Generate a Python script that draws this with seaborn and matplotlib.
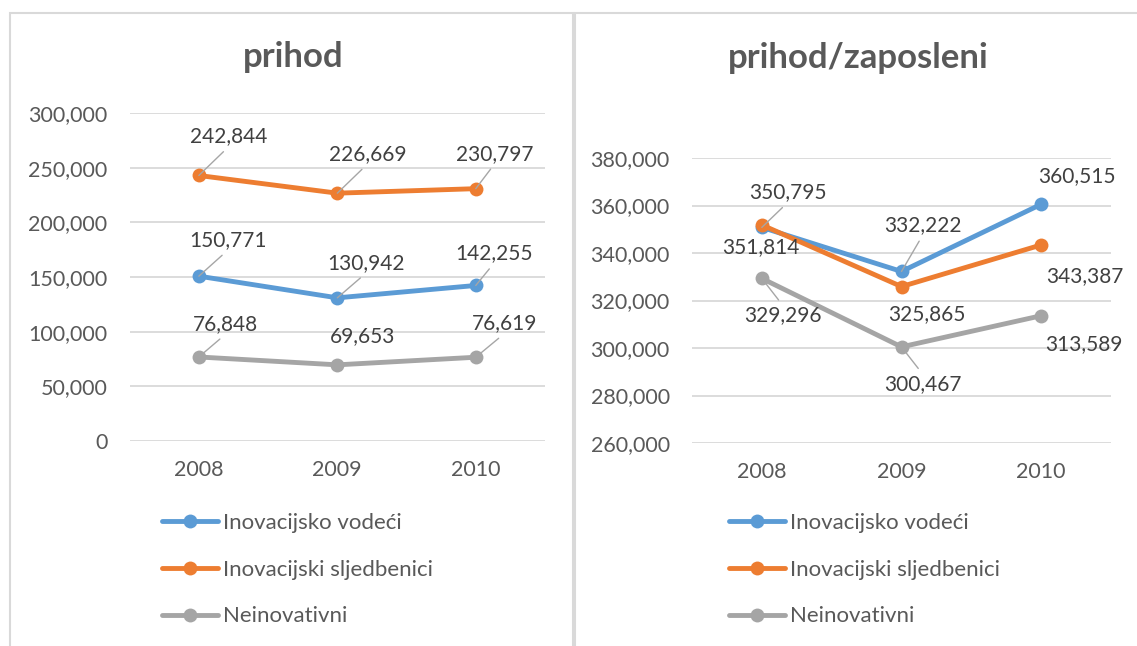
import matplotlib
matplotlib.use("Agg")
import matplotlib.pyplot as plt
from matplotlib.lines import Line2D
from matplotlib.patches import Rectangle
import seaborn as sns
import pandas as pd

years = ["2008", "2009", "2010"]
series_names = ["Inovacijsko vodeći", "Inovacijski sljedbenici", "Neinovativni"]

prihod_vodeci = [150771, 130942, 142255]
prihod_sljedbenici = [242844, 226669, 230797]
prihod_neinovativni = [76848, 69653, 76619]

pz_vodeci = [350795, 332222, 360515]
pz_sljedbenici = [351814, 325865, 343387]
pz_neinovativni = [329296, 300467, 313589]

left_ticks = [0, 50000, 100000, 150000, 200000, 250000, 300000]
right_ticks = [260000, 280000, 300000, 320000, 340000, 360000, 380000]

colors = ["#5B9BD5", "#ED7D31", "#A5A5A5"]

sns.set_theme(style="white")
plt.rcParams["font.family"] = ["Lato", "DejaVu Sans"]

W, H = 1137, 646
fig = plt.figure(figsize=(W / 100, H / 100), dpi=100)


def fx(px):
    return px / W


def fy(py):
    return 1 - py / H


# panel borders
fig.patches.append(Rectangle((fx(10), -0.1), fx(573) - fx(10), fy(13) + 0.1,
                             transform=fig.transFigure, fill=False,
                             ec="#d9d9d9", lw=1.5))
fig.patches.append(Rectangle((fx(575), -0.1), 0.6, fy(13) + 0.1,
                             transform=fig.transFigure, fill=False,
                             ec="#d9d9d9", lw=1.5))

ax1 = fig.add_axes([fx(129.6), fy(441), fx(545) - fx(129.6), fy(113) - fy(441)])
ax2 = fig.add_axes([fx(692), fy(443), fx(1111) - fx(692), fy(158) - fy(443)])

# label offsets (pixels) and leader flags, per series per year
left_offsets = [
    [(29, 36), (29, 35), (18, 32)],
    [(30, 39), (30, 39), (19, 35)],
    [(27, 33), (25, 29), (29, 34)],
]
left_leaders = [[True, True, True], [True, True, True], [True, False, True]]
right_offsets = [
    [(26, 35), (21, 46), (36, 28)],
    [(-1, -22), (25, -28), (44, -31)],
    [(21, -37), (21, -37), (43, -28)],
]
right_leaders = [[True, True, False], [False, False, False], [True, True, False]]

FS = 15.5


def draw(ax, data, ticks, offsets, leaders):
    xs = list(range(len(years)))
    for i, (name, vals) in enumerate(zip(series_names, data)):
        df = pd.DataFrame({"x": xs, "y": vals})
        sns.lineplot(data=df, x="x", y="y", ax=ax, color=colors[i], lw=3.5,
                     marker="o", markersize=10, markeredgewidth=0,
                     label=name, legend=False)
    for i, vals in enumerate(data):
        for j, v in enumerate(vals):
            dx, dy = offsets[i][j]
            ap = None
            if leaders[i][j]:
                ap = dict(arrowstyle="-", color="#a6a6a6", lw=1.0,
                          shrinkA=2, shrinkB=0,
                          relpos=(0.5, 0.0) if dy > 0 else (0.5, 1.0))
            ax.annotate(f"{v:,}", xy=(j, v), xytext=(dx, dy),
                        textcoords="offset pixels", ha="center", va="center",
                        fontsize=15, color="#404040", arrowprops=ap,
                        zorder=5)
    ax.set_xlim(-0.5, 2.5)
    ax.set_ylim(ticks[0], ticks[-1])
    ax.set_yticks(ticks)
    ax.set_yticklabels([f"{t:,}" for t in ticks])
    ax.set_xticks(xs)
    ax.set_xticklabels(years)
    ax.set_xlabel("")
    ax.set_ylabel("")
    for s in ax.spines.values():
        s.set_visible(False)
    ax.grid(axis="y", color="#d9d9d9", lw=1.3)
    ax.grid(axis="x", visible=False)
    ax.set_axisbelow(True)
    ax.tick_params(axis="y", length=0, pad=16, labelsize=FS, labelcolor="#595959")
    ax.tick_params(axis="x", length=0, pad=14, labelsize=FS, labelcolor="#595959")
    ax.patch.set_alpha(0)


draw(ax1, [prihod_vodeci, prihod_sljedbenici, prihod_neinovativni],
     left_ticks, left_offsets, left_leaders)
draw(ax2, [pz_vodeci, pz_sljedbenici, pz_neinovativni],
     right_ticks, right_offsets, right_leaders)

fig.text(fx(293), fy(57), "prihod", ha="center", va="center", fontsize=25,
         fontweight="bold", color="#595959")
fig.text(fx(858), fy(58), "prihod/zaposleni", ha="center", va="center",
         fontsize=25, fontweight="bold", color="#595959")

handles = [Line2D([], [], color=c, lw=3.5, marker="o", markersize=10,
                  markeredgewidth=0) for c in colors]
for lx in (162, 729):
    fig.legend(handles, series_names, loc="upper left",
               bbox_to_anchor=(fx(lx), fy(513)), frameon=False,
               fontsize=16, handlelength=2.5, handletextpad=0.25,
               labelspacing=1.2, borderpad=0, borderaxespad=0,
               labelcolor="#595959")

fig.savefig("out.png", dpi=100)
